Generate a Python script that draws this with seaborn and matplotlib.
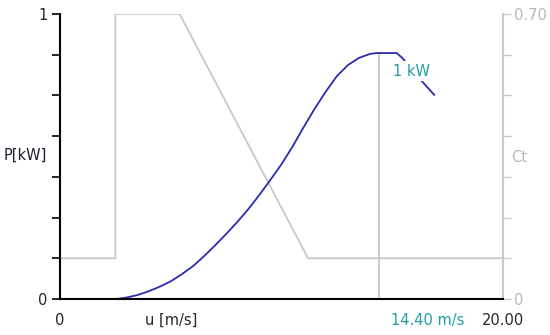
"""
Power curve (P) and thrust coefficient (Ct) of a small wind turbine.
"""

import matplotlib
matplotlib.use("Agg")
import matplotlib.pyplot as plt
import matplotlib.transforms as mtransforms
import seaborn as sns

# wind speed [m/s] and power [kW]
power_u = [2.5, 3.0, 3.5, 4.0, 4.5, 5.0, 5.5, 6.0, 6.5, 7.0, 7.5, 8.0, 8.5,
           9.0, 9.5, 10.0, 10.5, 11.0, 11.5, 12.0, 12.5, 13.0, 13.5, 14.0,
           14.3, 15.2, 15.45, 16.0, 16.5, 16.9]
power_kw = [0.0, 0.005, 0.014, 0.027, 0.043, 0.062, 0.087, 0.115, 0.15,
            0.188, 0.228, 0.27, 0.315, 0.365, 0.418, 0.473, 0.535, 0.603,
            0.668, 0.728, 0.782, 0.821, 0.846, 0.86, 0.863, 0.863, 0.846,
            0.795, 0.75, 0.716]

# thrust coefficient
ct_u = [0, 2.5, 2.5, 5.4, 11.2, 20]
ct_val = [0.1, 0.1, 0.7, 0.7, 0.1, 0.1]

# cursor readout
cursor_u = 14.40
cursor_p = 0.863
cursor_label = "14.40 m/s"
power_label = "1 kW"

x_ticks = [0, 5, 10, 15, 20]
x_ticklabels = ["0", "u [m/s]", "", "", "20.00"]

BLUE = "#2b2bb0"
GREY = "#c8c8c8"
TEAL = "#1f9ea6"

sns.set_style("white")
plt.rcParams["font.family"] = ["DejaVu Sans"]
plt.rcParams["font.size"] = 10.5

fig = plt.figure(figsize=(5.5, 3.35), dpi=100)
ax = fig.add_axes([60 / 550, 36 / 335, 443 / 550, 285 / 335])
ax2 = ax.twinx()

# Ct on the right axis
sns.lineplot(x=ct_u, y=ct_val, ax=ax2, color=GREY, linewidth=1.3,
             estimator=None, sort=False)
ax2.set_ylim(0, 0.7)
ax2.set_yticks([i * 0.1 for i in range(8)])
ax2.set_yticklabels(["0", "", "", "", "", "", "", "0.70"], color="#b8b8b8")
ax2.tick_params(axis="y", direction="out", length=6, width=1, color=GREY, pad=2)
ax2.set_ylabel("")
for s in ["top", "left", "bottom"]:
    ax2.spines[s].set_visible(False)
ax2.spines["right"].set_color(GREY)
ax2.spines["right"].set_linewidth(1.5)

# power on the left axis, drawn above Ct
ax.set_zorder(ax2.get_zorder() + 1)
ax.patch.set_visible(False)
ax.vlines(cursor_u, 0, cursor_p, color=GREY, linewidth=1.3)
sns.lineplot(x=power_u, y=power_kw, ax=ax, color=BLUE, linewidth=1.3,
             estimator=None, sort=False)
ax.set_xlim(0, 20)
ax.set_ylim(0, 1)
ax.set_yticks([i / 7 for i in range(8)])
ax.set_yticklabels(["0", "", "", "", "", "", "", "1"])
ax.set_xticks(x_ticks)
ax.set_xticklabels(x_ticklabels)
ax.tick_params(axis="x", direction="out", length=5, width=1.2,
               color="black", pad=5)
ax.tick_params(axis="y", direction="out", length=6, width=1.2,
               color="black", pad=3)
for s in ["top", "right"]:
    ax.spines[s].set_visible(False)
for s in ["left", "bottom"]:
    ax.spines[s].set_color("black")
    ax.spines[s].set_linewidth(1.5)

# cursor speed label below the axis
trans = mtransforms.blended_transform_factory(ax.transData, ax.transAxes)
ax.text(14.95, -0.075, cursor_label, transform=trans, ha="left", va="center",
        color=TEAL)
# power readout sitting on the curve
ax.text(15.85, 0.80, power_label, ha="center", va="center", color=TEAL,
        bbox=dict(facecolor="white", edgecolor="none", pad=1.5), zorder=5)

# axis titles
fig.text(4 / 550, 1 - 155 / 335, "P[kW]", ha="left", va="center", color="#202030")
fig.text(511 / 550, 1 - 157 / 335, "Ct", ha="left", va="center", color="#b8b8b8")

fig.savefig("out.png", dpi=100)
